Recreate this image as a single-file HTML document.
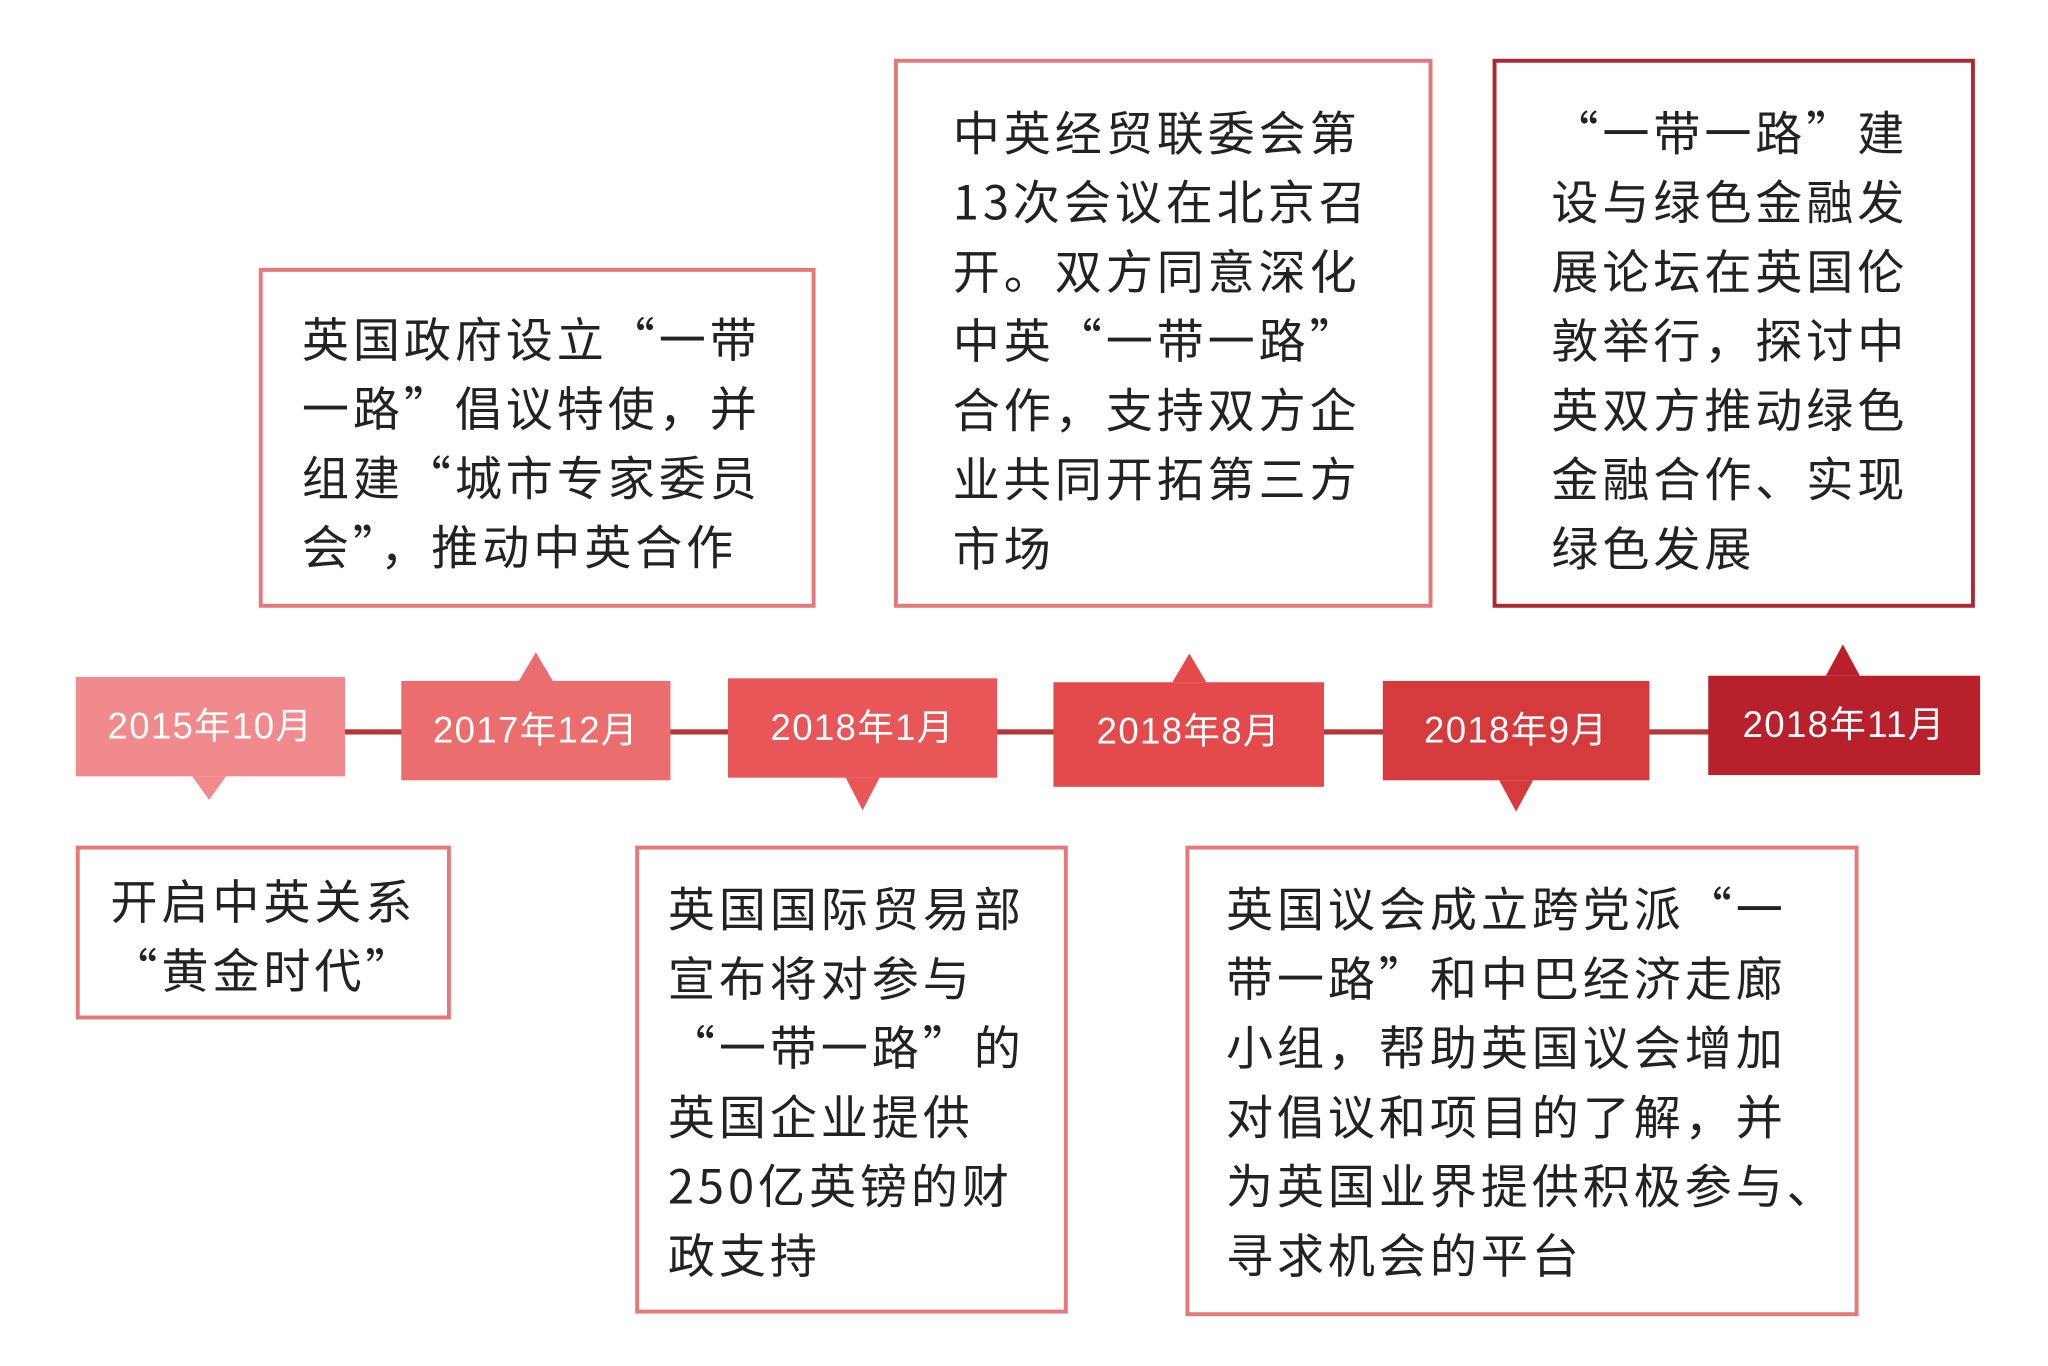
<!DOCTYPE html>
<html><head><meta charset="utf-8"><style>
html,body{margin:0;padding:0;background:#fff;width:2048px;height:1365px;overflow:hidden}
#c{position:absolute;left:0;top:0;width:1567px;height:1045px;transform:scale(1.307);transform-origin:0 0;font-family:"Liberation Sans","Noto Sans CJK SC",sans-serif}
.line{position:absolute;left:260px;top:558px;width:1050px;height:4px;background:#b3363a}
.d{position:absolute;height:76px;width:206px;color:#fff;font-size:28px;line-height:76px;text-align:center;letter-spacing:1px}
.t{position:absolute;width:0;height:0;border-left:13px solid transparent;border-right:13px solid transparent}
.b{position:absolute;border:3px solid #e6777b;box-sizing:border-box;background:#fff;color:#222;font-family:"Noto Sans CJK SC",sans-serif;font-size:36px;line-height:53px;letter-spacing:3px;white-space:nowrap}
</style></head><body><div id="c">
<div class="line"></div>
<div class="d" style="left:58px;top:518px;background:#f08a8c">2015年10月</div>
<div class="t" style="left:147px;top:594px;border-top:18px solid #f08a8c"></div>
<div class="d" style="left:307px;top:521px;background:#ec6d6e">2017年12月</div>
<div class="t" style="left:397px;top:499px;border-bottom:22px solid #ec6d6e"></div>
<div class="d" style="left:557px;top:519px;background:#e85658">2018年1月</div>
<div class="t" style="left:647px;top:595px;border-top:25px solid #e85658"></div>
<div class="d" style="left:806px;top:522px;width:207px;height:80px;background:#e44a4c">2018年8月</div>
<div class="t" style="left:897px;top:500px;border-bottom:22px solid #e44a4c"></div>
<div class="d" style="left:1058px;top:521px;width:204px;background:#d53a3d">2018年9月</div>
<div class="t" style="left:1147px;top:597px;border-top:24px solid #d53a3d"></div>
<div class="d" style="left:1307px;top:517px;width:208px;background:#b8212b">2018年11月</div>
<div class="t" style="left:1397px;top:493px;border-bottom:24px solid #b8212b"></div>

<div class="b" style="left:198px;top:205px;width:426px;height:260px;padding:24px 0 0 30px">英国政府设立“一带<br>一路”倡议特使，并<br>组建“城市专家委员<br>会”，推动中英合作</div>
<div class="b" style="left:684px;top:45px;width:412px;height:420px;padding:26px 0 0 42px">中英经贸联委会第<br>13次会议在北京召<br>开。双方同意深化<br>中英“一带一路”<br>合作，支持双方企<br>业共同开拓第三方<br>市场</div>
<div class="b" style="left:1142px;top:45px;width:369px;height:420px;padding:26px 0 0 42px;border-color:#b0282f">“一带一路”建<br>设与绿色金融发<br>展论坛在英国伦<br>敦举行，探讨中<br>英双方推动绿色<br>金融合作、实现<br>绿色发展</div>
<div class="b" style="left:58px;top:647px;width:287px;height:133px;padding:12px 0 0 0;text-align:center">开启中英关系<br>“黄金时代”</div>
<div class="b" style="left:486px;top:647px;width:331px;height:358px;padding:18px 0 0 22px">英国国际贸易部<br>宣布将对参与<br>“一带一路”的<br>英国企业提供<br>250亿英镑的财<br>政支持</div>
<div class="b" style="left:907px;top:647px;width:515px;height:360px;padding:18px 0 0 28px">英国议会成立跨党派“一<br>带一路”和中巴经济走廊<br>小组，帮助英国议会增加<br>对倡议和项目的了解，并<br>为英国业界提供积极参与、<br>寻求机会的平台</div>
</div></body></html>
